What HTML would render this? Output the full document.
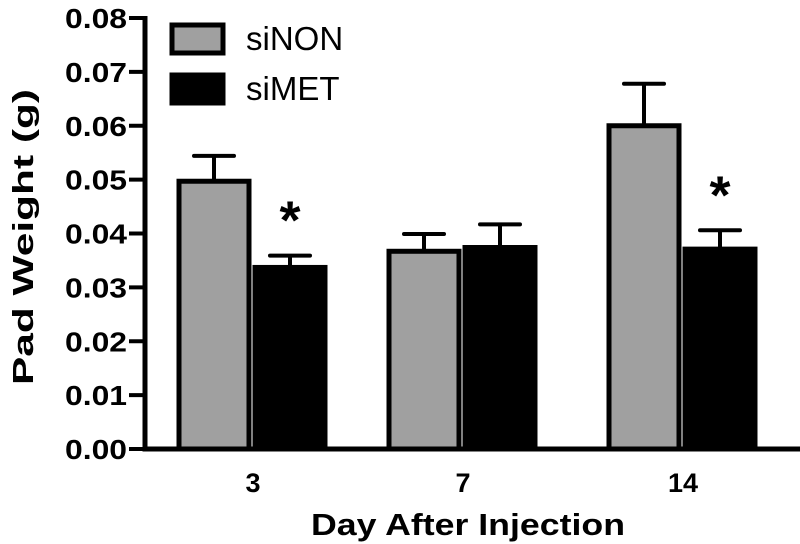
<!DOCTYPE html>
<html><head><meta charset="utf-8"><style>
body{margin:0;background:#fff}
svg{display:block;font-family:"Liberation Sans",Arial,sans-serif}
</style></head><body>
<svg id="c" width="800" height="544"></svg>
<script>
const categories=["3","7","14"];
const siNON=[0.0497,0.0367,0.0600];
const siNONerr=[0.0047,0.0032,0.0078];
const siMET=[0.0337,0.0374,0.0371];
const siMETerr=[0.0022,0.0043,0.0035];
const sig=[false,true,false,false,false,true];
const yTicks=["0.00","0.01","0.02","0.03","0.04","0.05","0.06","0.07","0.08"];
const NS="http://www.w3.org/2000/svg";
const svg=document.getElementById('c');
const y0=449,yTop=18,ymax=0.08;
const Y=v=>y0-(v/ymax)*(y0-yTop);
const groupCenters=[253,463,683];
const X=i=>groupCenters[i];
function mk(t,a,p){const e=document.createElementNS(NS,t);for(const k in a)e.setAttribute(k,a[k]);(p||svg).appendChild(e);return e;}
yTicks.forEach((t,i)=>{const v=parseFloat(t),y=Y(v);
 const l=mk('line',{x1:129,x2:145,y1:y,y2:y,stroke:'#000','stroke-width':4});
 
 
 const tx=mk('text',{x:127,y:y+10,'text-anchor':'end','font-size':28,'font-weight':'bold',textLength:62,lengthAdjust:'spacingAndGlyphs'});tx.textContent=t;
 
 
});
const bw=74;
categories.forEach((c,i)=>{
 const cx=X(i);
 [[siNON,siNONerr,'#a0a0a0',cx-bw/2-2,'sinon'],[siMET,siMETerr,'#000',cx+bw/2,'simet']].forEach(([vals,errs,col,bx,nm],j)=>{
  const v=vals[i],e=errs[i];const top=Y(v),mid=bx;
  const ey=Y(v+e);
  const el=mk('line',{x1:mid,x2:mid,y1:top,y2:ey,stroke:'#000','stroke-width':4});
  
  
  const cap=mk('line',{x1:mid-20,x2:mid+20,y1:ey,y2:ey,stroke:'#000','stroke-width':4,'stroke-linecap':'round'});
  
  
  const r=mk('rect',{x:bx-bw/2+2,y:top,width:bw-4,height:y0-top,fill:col,stroke:'#000','stroke-width':5});
  
  
  if(sig[i*2+j]){const s=mk('text',{x:mid,y:ey-17,'text-anchor':'middle','font-size':54,'font-weight':'bold'});s.textContent='*';
   
   }
 });
 const t=mk('text',{x:cx,y:492,'text-anchor':'middle','font-size':27,'font-weight':'bold'});t.textContent=c;
 
 
});
const ax=mk('path',{d:`M145 ${yTop-2} V${y0} H800`,fill:'none',stroke:'#000','stroke-width':5});


</script>
<svg style="position:absolute;left:0;top:0" width="800" height="544">
<g>
<rect x="172" y="25" width="51" height="28" fill="#a0a0a0" stroke="#000" stroke-width="5"/>
<text x="246" y="50" font-size="33">siNON</text>
<rect x="172" y="75" width="51" height="28" fill="#000" stroke="#000" stroke-width="5"/>
<text x="246" y="100" font-size="33">siMET</text>
</g>
<text x="468" y="535" text-anchor="middle" font-size="31" font-weight="bold" textLength="314" lengthAdjust="spacingAndGlyphs">Day After Injection</text>
<text transform="translate(33,237) rotate(-90)" text-anchor="middle" font-size="29" font-weight="bold" textLength="296" lengthAdjust="spacingAndGlyphs">Pad Weight (g)</text>
</svg>
</body></html>
